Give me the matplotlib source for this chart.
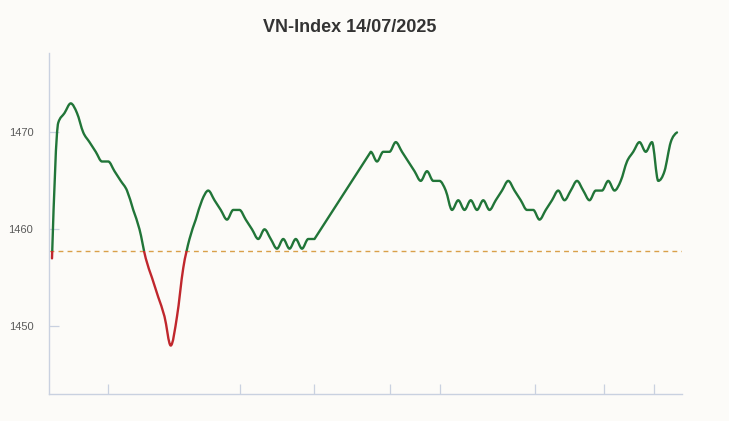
import matplotlib
matplotlib.use("Agg")
import matplotlib.pyplot as plt
from matplotlib.patches import Rectangle, PathPatch
from matplotlib.path import Path
import numpy as np

# ── data ──────────────────────────────────────────────────────────────────────
TITLE = "VN-Index 14/07/2025"
REF_CLOSE = 1457.76          # previous session close

# morning session, one sample per step (index 0..42)
am_vals = [1457, 1471, 1472, 1473, 1472, 1470, 1469, 1468, 1467, 1467,
           1466, 1465, 1464, 1462, 1460, 1457, 1455, 1453, 1451, 1448,
           1451, 1456, 1459, 1461, 1463, 1464, 1463, 1462, 1461, 1462,
           1462, 1461, 1460, 1459, 1460, 1459, 1458, 1459, 1458, 1459,
           1458, 1459, 1459]
# afternoon session (index 51..100), lunch break has no samples
pm_vals = [1468, 1467, 1468, 1468, 1469, 1468, 1467, 1466, 1465, 1466,
           1465, 1465, 1464, 1462, 1463, 1462, 1463, 1462, 1463, 1462,
           1463, 1464, 1465, 1464, 1463, 1462, 1462, 1461, 1462, 1463,
           1464, 1463, 1464, 1465, 1464, 1463, 1464, 1464, 1465, 1464,
           1465, 1467, 1468, 1469, 1468, 1469, 1465, 1466, 1469, 1470]
am_idx = np.arange(0, 43)
pm_idx = np.arange(51, 101)

x_ticks = [9, 30.1, 41.9, 54.1, 62.1, 77.3, 88.3, 96.3]
y_ticks = [1450, 1460, 1470]

# ── style ─────────────────────────────────────────────────────────────────────
BG      = "#fcfbf8"
GREEN   = "#217538"
RED     = "#c0272d"
AXIS_C  = "#c9d1e0"
REF_C   = "#d9a04a"
FONT    = ["Liberation Sans", "DejaVu Sans"]


def monotone_path(xs, ys, gap=1.5):
    """Monotone cubic curve through the points; long gaps drawn straight."""
    xs = np.asarray(xs, float)
    ys = np.asarray(ys, float)
    h = np.diff(xs)
    s = np.diff(ys) / h
    n = len(xs)
    t = np.zeros(n)
    for i in range(1, n - 1):
        s0, s1, h0, h1 = s[i - 1], s[i], h[i - 1], h[i]
        p = (s0 * h1 + s1 * h0) / (h0 + h1)
        t[i] = (np.sign(s0) + np.sign(s1)) * min(abs(s0), abs(s1), 0.5 * abs(p))
    t[0] = (3 * s[0] - t[1]) / 2
    t[-1] = (3 * s[-1] - t[-2]) / 2
    verts = [(xs[0], ys[0])]
    codes = [Path.MOVETO]
    for i in range(n - 1):
        if h[i] > gap:
            verts.append((xs[i + 1], ys[i + 1]))
            codes.append(Path.LINETO)
            continue
        d = h[i] / 3
        verts += [(xs[i] + d, ys[i] + d * t[i]),
                  (xs[i + 1] - d, ys[i + 1] - d * t[i + 1]),
                  (xs[i + 1], ys[i + 1])]
        codes += [Path.CURVE4] * 3
    return Path(verts, codes)


x = np.concatenate([am_idx, pm_idx])
y = np.array(am_vals + pm_vals, dtype=float)

fig = plt.figure(figsize=(7.29, 4.21), dpi=100)
fig.patch.set_facecolor(BG)
ax = fig.add_axes([48.5 / 729, 27 / 421, 633.5 / 729, 341 / 421])
ax.set_facecolor(BG)

ax.set_xlim(-0.56, 100.8)
ax.set_ylim(1443.0, 1478.2)

# line coloured green above / red below the reference close
y_lo, y_hi = ax.get_ylim()
x_lo, x_hi = ax.get_xlim()
path = monotone_path(x, y)
for color, (b0, b1) in [(GREEN, (REF_CLOSE, y_hi)), (RED, (y_lo, REF_CLOSE))]:
    patch = PathPatch(path, facecolor="none", edgecolor=color, lw=1.7,
                      joinstyle="round", capstyle="round", zorder=3)
    ax.add_patch(patch)
    clip = Rectangle((x_lo, b0), x_hi - x_lo, b1 - b0, transform=ax.transData)
    patch.set_clip_path(clip)

ax.axhline(REF_CLOSE, color=REF_C, lw=1.0, ls=(0, (3.5, 3)), zorder=2)

for side in ("top", "right"):
    ax.spines[side].set_visible(False)
for side in ("left", "bottom"):
    ax.spines[side].set_color(AXIS_C)
    ax.spines[side].set_linewidth(1.0)

ax.set_xticks(x_ticks)
ax.set_xticklabels([])
ax.set_yticks(y_ticks)
ax.set_yticklabels([str(v) for v in y_ticks], fontsize=8, color="#5a5a5a",
                   family=FONT)
ax.tick_params(axis="both", direction="in", length=7, color=AXIS_C, width=0.9,
               pad=11)

fig.text(350 / 729, 1 - 28 / 421, TITLE, ha="center", va="center",
         fontsize=13, fontweight="bold", color="#333333", family=FONT)

fig.savefig("out.png", dpi=100, facecolor=BG)
